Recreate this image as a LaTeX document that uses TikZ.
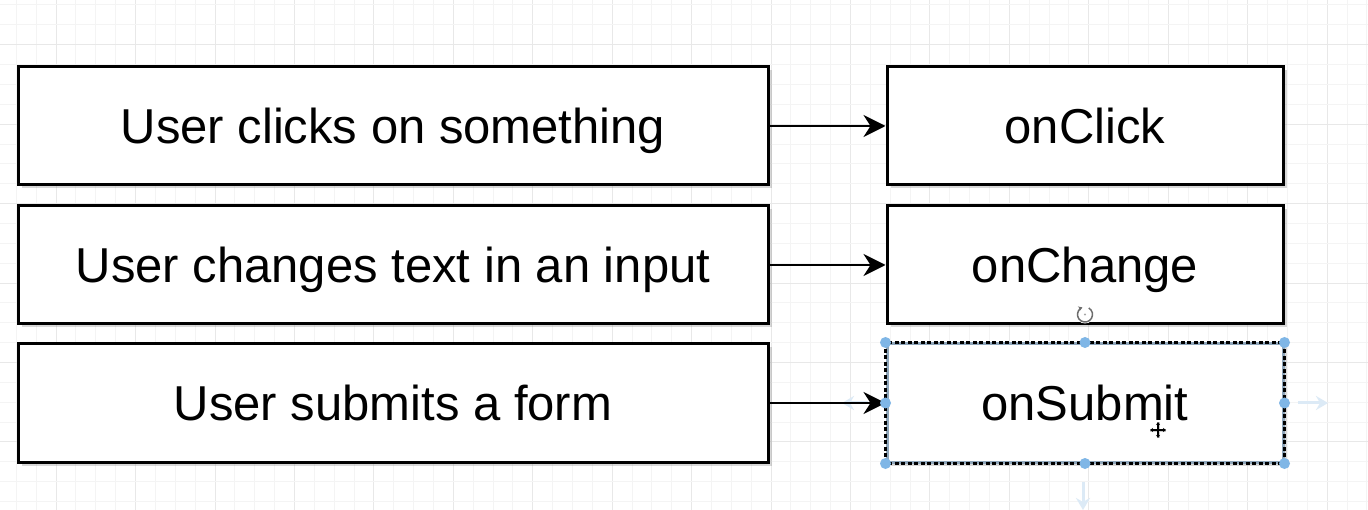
\documentclass[tikz,border=0pt]{standalone}
\usepackage{fontspec}
\setmainfont{Liberation Sans}
\usetikzlibrary{arrows.meta,shadows}

\definecolor{gridminor}{HTML}{F4F4F4}
\definecolor{gridmajor}{HTML}{E8E8E8}
\definecolor{handle}{HTML}{7FB6E6}
\definecolor{hint}{HTML}{DCEAF6}
\definecolor{selline}{HTML}{8FA6BA}

\tikzset{
  evbox/.style={draw=black, line width=3pt, fill=white, inner sep=0pt,
    font=\fontsize{49}{58}\selectfont, text height=35pt, text depth=0pt,
    drop shadow={shadow xshift=3.5pt, shadow yshift=-3.5pt, opacity=0.3, fill=gray}},
  userbox/.style={evbox, minimum width=750pt, minimum height=118pt},
  handlerbox/.style={evbox, minimum width=396pt, minimum height=118pt},
  flow/.style={line width=2.5pt, -{Stealth[length=22pt, width=22pt, inset=7pt]}},
  hintarrow/.style={hint, line width=3pt, -{Stealth[length=12pt, width=14pt, inset=4pt]}},
  selhandle/.style={handle},
}

\begin{document}
\begin{tikzpicture}[x=1pt, y=-1pt]
  \useasboundingbox (0,0) rectangle (1368,510);
  \fill[white] (0,0) rectangle (1368,510);

  % background grid, heavier line every fourth step
  \foreach \k in {0,...,69} {
    \pgfmathtruncatemacro{\m}{mod(\k,4)}
    \ifnum\m=2
      \draw[gridmajor, line width=1pt] ({16.4+\k*19.86},0) -- ({16.4+\k*19.86},510);
    \else
      \draw[gridminor, line width=1pt] ({16.4+\k*19.86},0) -- ({16.4+\k*19.86},510);
    \fi
  }
  \foreach \k in {0,...,25} {
    \pgfmathtruncatemacro{\m}{mod(\k,4)}
    \ifnum\m=2
      \draw[gridmajor, line width=1pt] (0,{5+\k*19.86}) -- (1368,{5+\k*19.86});
    \else
      \draw[gridminor, line width=1pt] (0,{5+\k*19.86}) -- (1368,{5+\k*19.86});
    \fi
  }

  % faint connection hints around the selected handler
  \draw[hintarrow] (1298,403) -- (1328,403);
  \draw[hintarrow] (1083,482) -- (1083,510);
  \draw[hintarrow] (868,403) -- (842,403);

  % user actions
  \node[userbox] (u1) at (393,126) {User clicks on something};
  \node[userbox] (u2) at (393,265) {User changes text in an input};
  \node[userbox] (u3) at (393,403) {User submits a form};

  % event handlers
  \node[handlerbox] (h1) at (1085,126) {onClick};
  \node[handlerbox] (h2) at (1085,265) {onChange};
  \node[handlerbox, draw=selline] (h3) at (1085,403) {onSubmit};
  \draw[black, line width=3pt, dash pattern=on 4pt off 2.5pt]
    (h3.north west) rectangle (h3.south east);

  % connectors
  \draw[flow] (u1.east) -- (h1.west);
  \draw[flow] (u2.east) -- (h2.west);
  \draw[flow] (u3.east) -- (h3.west);

  % selection handles
  \foreach \a in {north west, north, north east, west, east, south west, south, south east}
    \fill[selhandle] (h3.\a) circle (5.5pt);

  % rotation handle
  \coordinate (rot) at ([yshift=28pt]h3.north);
  \fill[white] (rot) circle (9pt);
  \draw[gray!85!black, line width=1.5pt, -{Stealth[length=4pt, width=5pt]}]
    ([shift={(60:7.5pt)}]rot) arc[start angle=60, end angle=-250, radius=7.5pt];
  \fill[gray!70] (rot) circle (1.2pt);

  % move cursor
  \coordinate (cur) at (1158,430);
  \begin{scope}[shift={(1pt,1.5pt)}]
    \draw[gray!40, line width=3pt] ([xshift=-8pt]cur) -- ([xshift=8pt]cur);
    \draw[gray!40, line width=3pt] ([yshift=-8pt]cur) -- ([yshift=8pt]cur);
  \end{scope}
  \draw[black, line width=1.6pt, {Stealth[length=3pt,width=4pt]}-{Stealth[length=3pt,width=4pt]}]
    ([xshift=-8pt]cur) -- ([xshift=8pt]cur);
  \draw[black, line width=1.6pt, {Stealth[length=3pt,width=4pt]}-{Stealth[length=3pt,width=4pt]}]
    ([yshift=-8pt]cur) -- ([yshift=8pt]cur);
\end{tikzpicture}
\end{document}
